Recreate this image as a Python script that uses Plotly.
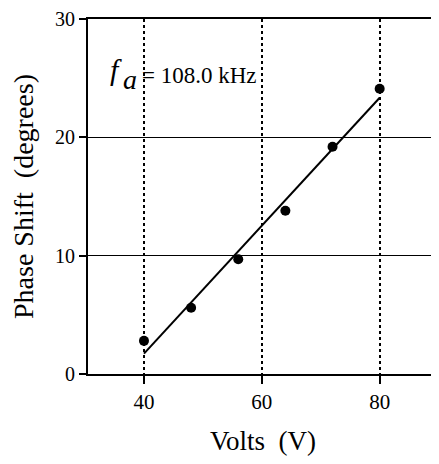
import numpy as np
import plotly.graph_objects as go

volts = [40, 48, 56, 64, 72, 80]
phase_shift = [2.8, 5.6, 9.7, 13.8, 19.2, 24.1]
x_ticks = [40, 60, 80]
y_ticks = [0, 10, 20, 30]

slope, intercept = np.polyfit(volts, phase_shift, 1)
fit_x = [volts[0], volts[-1]]
fit_y = [slope * v + intercept for v in fit_x]

FONT = "Liberation Serif"

fig = go.Figure()
fig.add_trace(go.Scatter(x=fit_x, y=fit_y, mode="lines",
                         line=dict(color="black", width=2), showlegend=False))
fig.add_trace(go.Scatter(x=volts, y=phase_shift, mode="markers",
                         marker=dict(color="black", size=10), showlegend=False))

fig.add_annotation(x=35.3, y=25.7, xref="x", yref="y", text="<i>f</i>", showarrow=False,
                   font=dict(family=FONT, size=30, color="black"))
fig.add_annotation(x=37.6, y=24.9, xref="x", yref="y", text="<i>a</i>", showarrow=False,
                   font=dict(family=FONT, size=28, color="black"))
fig.add_annotation(x=39.4, y=25.2, xref="x", yref="y", text="= 108.0 kHz", showarrow=False,
                   xanchor="left", font=dict(family=FONT, size=23, color="black"))

# page has an 8px body margin; figure sized/margined so the plot lands where the reference has it
fig.update_layout(
    width=431, height=456,
    margin=dict(l=80, r=1, t=11, b=90, autoexpand=False),
    paper_bgcolor="white", plot_bgcolor="white",
    font=dict(family=FONT, size=20, color="black"),
)
fig.update_xaxes(range=[30.5, 89.9], tickvals=x_ticks, ticks="outside", ticklen=8, tickwidth=2,
                 tickcolor="black", showline=True, linewidth=2, linecolor="black", mirror=True,
                 showgrid=True, gridcolor="black", gridwidth=1.5, griddash="dot",
                 zeroline=False, tickfont=dict(family=FONT, size=21), automargin=False,
                 ticklabeloverflow="allow",
                 title=dict(text="Volts  (V)", font=dict(family=FONT, size=27), standoff=18))
fig.update_yaxes(range=[0, 30], tickvals=y_ticks, ticks="outside", ticklen=7, tickwidth=2,
                 tickcolor="black", showline=True, linewidth=2, linecolor="black", mirror=True,
                 showgrid=True, gridcolor="black", gridwidth=1.2,
                 zeroline=False, tickfont=dict(family=FONT, size=20), automargin=False,
                 ticklabeloverflow="allow",
                 title=dict(text="Phase Shift  (degrees)", font=dict(family=FONT, size=28), standoff=20))

fig.write_html("out.html")
